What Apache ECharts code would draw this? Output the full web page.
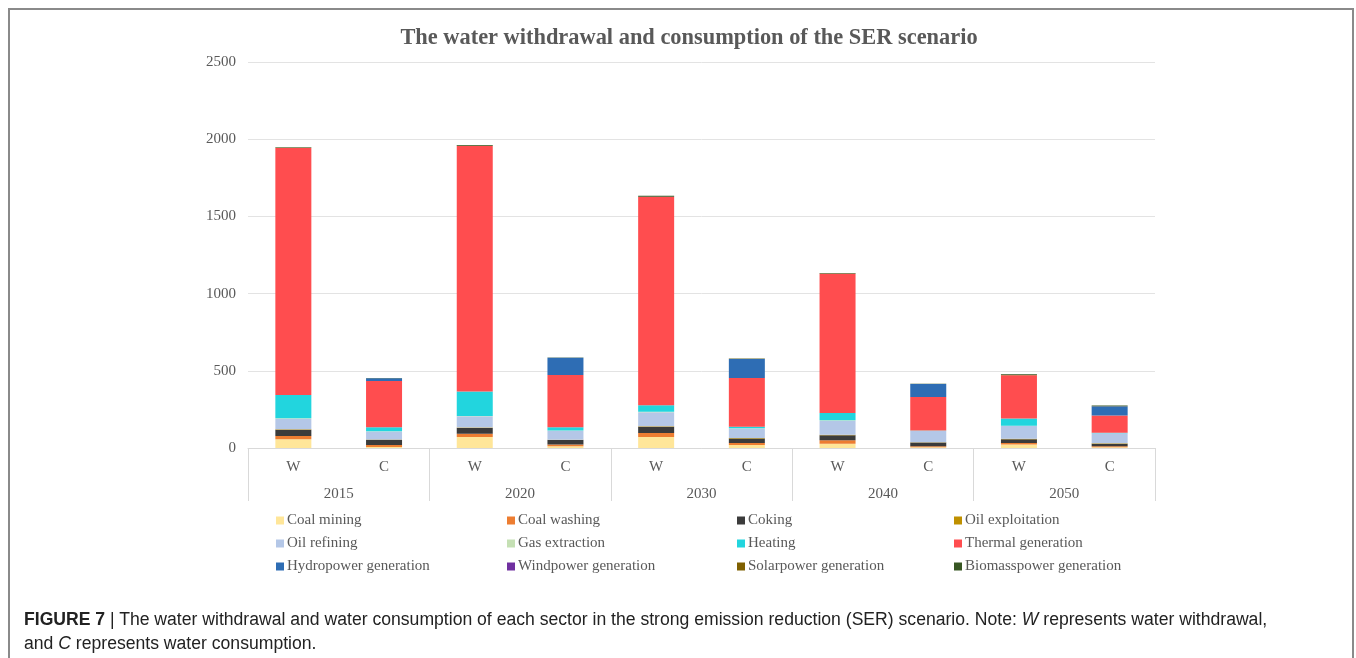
<!DOCTYPE html>
<html>
<head>
    <meta charset="utf-8">
    <title>SER scenario water withdrawal and consumption</title>
    <script src="https://cdn.jsdelivr.net/npm/echarts@6/dist/echarts.min.js"></script>
    <style>
        body { margin: 0; background: #fff; }
        #frame { position: absolute; left: 8px; top: 8px; width: 1342px; height: 700px; border: 2px solid #8a8a8a; }
        #main { position: absolute; left: 0; top: 0; width: 1356px; height: 658px; }
        #caption { position: absolute; left: 24px; top: 607px; width: 1320px; font-family: "Liberation Sans", Arial, sans-serif;
                   font-size: 17.6px; line-height: 24px; color: #222; white-space: nowrap; }
        #caption b { font-weight: bold; }
    </style>
</head>
<body>
    <div id="frame"></div>
    <div id="main"></div>
    <div id="caption"><b>FIGURE 7</b> | The water withdrawal and water consumption of each sector in the strong emission reduction (SER) scenario. Note: <i>W</i> represents water withdrawal,<br>and <i>C</i> represents water consumption.</div>

    <script type="text/javascript">
        // 两层横轴：W/C 和 年份
        var barLabels = ['W', 'C', 'W', 'C', 'W', 'C', 'W', 'C', 'W', 'C'];
        var years = ['2015', '2020', '2030', '2040', '2050'];

        // 各部门数值（顺序：2015W,2015C,2020W,2020C,2030W,2030C,2040W,2040C,2050W,2050C）
        var coalMining      = [56, 6, 71, 12, 71, 19, 28, 5, 22, 5];
        var coalWashing     = [22, 14, 22, 10, 26, 13, 22, 6, 11, 7];
        var coking          = [40, 33, 37, 30, 41, 30, 33, 24, 24, 16];
        var oilExploitation = [3, 2, 3, 2, 3, 2, 3, 2, 3, 2];
        var oilRefining     = [69, 52, 73, 58, 91, 63, 91, 73, 82, 65];
        var gasExtraction   = [2, 1, 2, 1, 2, 1, 2, 1, 2, 1];
        var heating         = [151, 26, 158, 22, 43, 9, 47, 3, 47, 3];
        var thermal         = [1600, 300, 1590, 337, 1350, 317, 903, 216, 280, 112];
        var hydropower      = [0, 17, 0, 112, 0, 123, 0, 84, 0, 60];
        var windpower       = [0, 0, 0, 0, 0, 0, 0, 0, 0, 0];
        var solarpower      = [1, 1, 1, 1, 1, 1, 1, 1, 1, 1];
        var biomasspower    = [4, 1, 5, 1, 5, 1, 4, 1, 5, 3];

        var seriesNames = ['Coal mining', 'Coal washing', 'Coking', 'Oil exploitation',
            'Oil refining', 'Gas extraction', 'Heating', 'Thermal generation',
            'Hydropower generation', 'Windpower generation', 'Solarpower generation', 'Biomasspower generation'];
        var seriesData = [coalMining, coalWashing, coking, oilExploitation, oilRefining, gasExtraction,
            heating, thermal, hydropower, windpower, solarpower, biomasspower];
        var colors = ['#FFE699', '#ED7D31', '#3B3B3B', '#BF9000', '#B4C7E7', '#C5E0B4',
            '#22D5DE', '#FF4D4F', '#2E6DB4', '#7030A0', '#7F6000', '#375623'];

        var serif = '"Liberation Serif", "Times New Roman", serif';
        var textColor = '#595959';

        var series = [];
        for (var i = 0; i < seriesNames.length; i++) {
            series.push({
                name: seriesNames[i],
                type: 'bar',
                stack: 'total',
                barWidth: 36,
                itemStyle: { color: colors[i] },
                data: seriesData[i]
            });
        }

        // 图例：4列3行，逐个定位
        var legendCols = [276, 507, 737, 954];
        var legendRows = [513, 536, 559];
        var legends = [];
        for (var j = 0; j < seriesNames.length; j++) {
            legends.push({
                data: [seriesNames[j]],
                left: legendCols[j % 4],
                top: legendRows[Math.floor(j / 4)],
                padding: 0,
                itemWidth: 8,
                itemHeight: 8,
                icon: 'rect',
                selectedMode: false,
                textStyle: { fontFamily: serif, fontSize: 15, color: textColor, padding: [0, 0, 0, -2] }
            });
        }

        var myChart = echarts.init(document.getElementById('main'));
        myChart.setOption({
            color: colors,
            animation: false,
            title: {
                text: 'The water withdrawal and consumption of the SER scenario',
                left: 684,
                textAlign: 'center',
                top: 22,
                textStyle: { fontFamily: serif, fontSize: 22.4, fontWeight: 'bold', color: textColor }
            },
            legend: legends,
            grid: {
                left: 248,
                right: 201,
                top: 62,
                height: 386
            },
            xAxis: [
                {
                    type: 'category',
                    data: barLabels,
                    position: 'bottom',
                    axisLine: { lineStyle: { color: '#d9d9d9' } },
                    axisTick: { show: false },
                    axisLabel: { fontFamily: serif, fontSize: 15, color: textColor, margin: 12 }
                },
                {
                    type: 'category',
                    data: years,
                    position: 'bottom',
                    axisLine: { show: false },
                    axisTick: { show: true, length: 53, lineStyle: { color: '#d9d9d9' } },
                    axisLabel: { fontFamily: serif, fontSize: 15, color: textColor, margin: 39 }
                }
            ],
            yAxis: {
                type: 'value',
                min: 0,
                max: 2500,
                interval: 500,
                axisLine: { show: false },
                axisTick: { show: false },
                splitLine: { lineStyle: { color: '#e3e3e3' } },
                axisLabel: {
                    fontFamily: serif, fontSize: 15, color: textColor, margin: 12,
                    formatter: function (v) { return String(v); }
                }
            },
            series: series
        });
    </script>
</body>
</html>
